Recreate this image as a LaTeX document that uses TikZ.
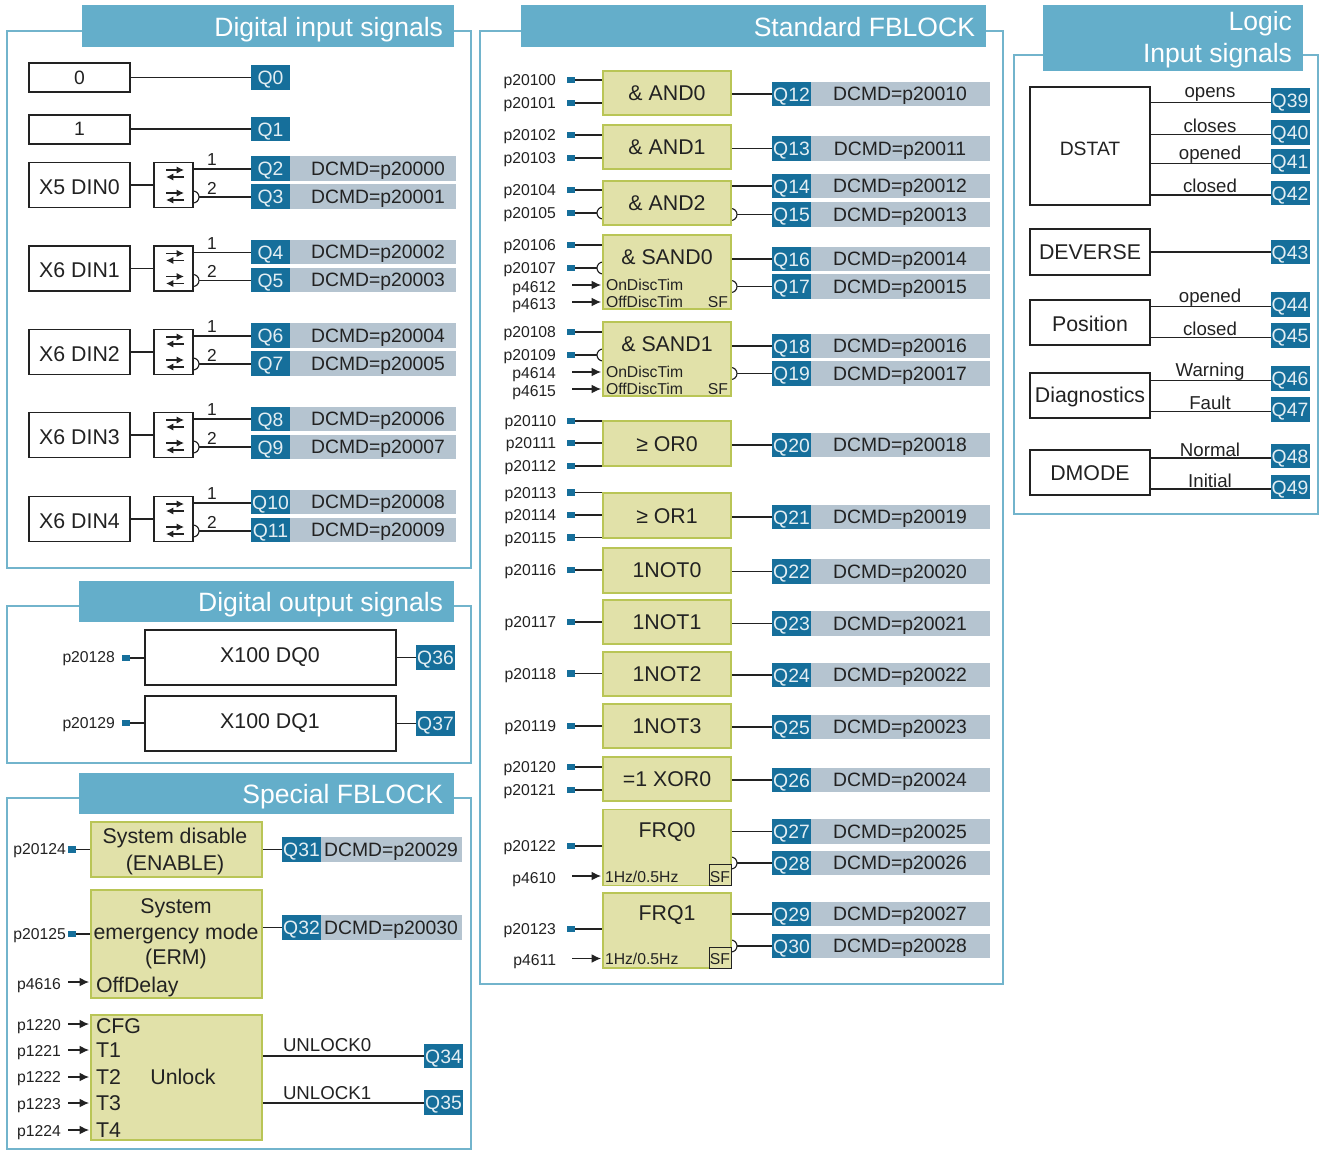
\documentclass[tikz,border=0pt]{standalone}
\usepackage{fontspec}
\setmainfont{Liberation Sans}
\usetikzlibrary{arrows.meta}
\pgfdeclarelayer{under}
\pgfsetlayers{under,main}
\definecolor{hdr}{HTML}{64AECA}
\definecolor{frm}{HTML}{72B4CC}
\definecolor{qb}{HTML}{166F9B}
\definecolor{bar}{HTML}{B5C4D0}
\definecolor{blkf}{HTML}{E1E1A9}
\definecolor{blkd}{HTML}{B9C556}
\definecolor{ink}{HTML}{222222}
\newcommand\fa{\fontsize{11.8}{14}\selectfont}
\newcommand\fb{\fontsize{14}{17}\selectfont}
\newcommand\fc{\fontsize{14.5}{17}\selectfont}
\newcommand\fd{\fontsize{16}{19.2}\selectfont}
\newcommand\fe{\fontsize{19.9}{24}\selectfont}
\newcommand\ql[1]{\raisebox{0pt}[10.8pt][0pt]{Q#1}}
\tikzset{
 x=0.75pt,y=-0.75pt,
 txt/.style={inner sep=0pt,outer sep=0pt,text=ink,yshift=-1.5pt},
 small/.style={font=\fa},
 med/.style={font=\fb},
 title/.style={inner sep=0pt,outer sep=0pt,text=white,font=\fe,anchor=east,yshift=-2pt},
 boxbase/.style={inner sep=0pt,outer sep=0pt},
 whitebox/.style={boxbase,draw=ink,line width=0.9pt,fill=white},
 blk/.style={boxbase,draw=blkd,line width=1.1pt,fill=blkf},
 hdrbox/.style={boxbase,fill=hdr},
 qbox/.style={boxbase,fill=qb,text=white!88!qb,font=\fc,minimum width=29.25pt,minimum height=18.4pt},
 barbox/.style={boxbase,fill=bar,minimum height=18.4pt},
 sqbox/.style={boxbase,fill=qb,minimum width=5.3pt,minimum height=4.8pt},
 wire/.style={draw=ink,line width=0.85pt},
 arrowin/.style={draw=ink,line width=0.85pt,-{Latex[length=7pt,width=6.5pt]},shorten >=1.5pt},
 swarr/.style={draw=ink,line width=1.1pt,-{Latex[length=5.5pt,width=5.5pt]}},
 bubble/.style={draw=ink,line width=0.85pt,fill=white},
 frame/.style={draw=frm,line width=2.1pt},
}
% generic helpers
\newcount\tc
\newcommand\tx[4][]{\global\advance\tc by 1 \node[txt,#1] (t\the\tc) at (#2,#3) {#4};}
\newcommand\bx[6]{\node[#6,minimum width={(#4-(#2))*0.75pt},minimum height={(#5-(#3))*0.75pt}] (#1) at ({(#2+#4)/2},{(#3+#5)/2}) {};}
\newcommand\wire[3]{\begin{pgfonlayer}{under}\draw[wire] (#1 |- 0,#3) -- (#2 |- 0,#3);\end{pgfonlayer}}
\newcommand\bubr[2]{\begin{pgfonlayer}{under}\draw[bubble] (#1 |- 0,#2) circle[radius=6];\end{pgfonlayer}}
\newcommand\qq[3]{\node[qbox] (q#1) at ({#2+19.5},#3) {\ql{#1}};}
\newcommand\qg[6]{\node[barbox,minimum width={(#4-#2-39)*0.75pt}] (g#1) at ({(#2+39+#4)/2},#3) {};
 \node[qbox] (q#1) at ({#2+19.5},#3) {\ql{#1}};
 \tx[font=\fc]{#6}{#3}{DCMD=#5}}
% digital input rows
\newcommand\din[5]{%
 \bx{#1}{29}{#2-22.5}{130}{#2+22.5}{whitebox}\tx[font=\fd]{79.5}{#2}{#3}
 \bx{sw#1}{154}{#2-22.5}{193}{#2+22.5}{whitebox}
 \draw[swarr] (166,#2-15) -- (184,#2-15);
 \draw[swarr] (184,#2-8) -- (166,#2-8);
 \draw[swarr] (166,#2+8) -- (184,#2+8);
 \draw[swarr] (184,#2+15) -- (166,#2+15);
 \wire{#1.east}{sw#1.west}{#2}
 \wire{sw#1.east}{q#4.west}{#2-16}
 \wire{sw#1.east}{q#5.west}{#2+12}
 \bubr{sw#1.east}{#2+12}
 \tx[font=\fontsize{13}{15}\selectfont]{212}{#2-27}{1}
 \tx[font=\fontsize{13}{15}\selectfont]{212}{#2+1}{2}}
\newcommand\dinq[3]{\qg{#1}{251}{#2}{456}{#3}{378}}
% standard panel helpers
\newcommand\spin[3]{\tx[small,anchor=east]{556}{#2}{p#1}\node[sqbox] (s#1) at (571,#2) {};\wire{s#1.center}{#3.west}{#2}}
\newcommand\spini[3]{\spin{#1}{#2}{#3}\bubr{#3.west}{#2}}
\newcommand\sarr[4][0]{\tx[small,anchor=east]{556}{#2+#1+2}{p#3}\coordinate (a#3) at (572,#2);\begin{pgfonlayer}{under}\draw[arrowin] (a#3) -- (#4.west |- 0,#2);\end{pgfonlayer}}
\newcommand\stq[4]{\qg{#1}{772}{#2}{990}{#3}{900}\wire{#4.east}{q#1.west}{#2}}
\newcommand\stqi[4]{\qg{#1}{772}{#2}{990}{#3}{900}\wire{#4.east}{q#1.west}{#2}\bubr{#4.east}{#2}}
\newcommand\sblk[4]{\bx{#1}{603}{#2}{731}{#3}{blk}\tx[font=\fd]{667}{#4}{\csname lbl#1\endcsname}}
\newcommand\ssf[2]{\bx{sf#1}{709}{#2-21}{731}{#2}{blk,draw=ink,line width=0.7pt}\tx[small]{720}{#2-10.5}{SF}}
% right panel
\newcommand\rqb[3]{\node[qbox] (q#1) at (1290,#2) {\ql{#1}};\wire{#3.east}{q#1.west}{#2+2}}
\begin{document}
\begin{tikzpicture}
\useasboundingbox (0,0) rectangle (1319,1150);
\begin{pgfonlayer}{under}
\fill[white] (0,0) rectangle (1319,1150);
\draw[frame] (7,31) rectangle (471,568);
\draw[frame] (7,606) rectangle (471,763);
\draw[frame] (7,798) rectangle (471,1149);
\draw[frame] (480,31) rectangle (1003,984);
\draw[frame] (1014,55) rectangle (1318,514);
\end{pgfonlayer}
% headers
\bx{h1}{82}{5}{454}{47}{hdrbox}\node[title] (h1t) at (443,27) {Digital input signals};
\bx{h2}{79}{581}{454}{622}{hdrbox}\node[title] (h2t) at (443,602) {Digital output signals};
\bx{h3}{79}{773}{454}{814}{hdrbox}\node[title] (h3t) at (443,794) {Special FBLOCK};
\bx{h4}{521}{5}{986}{47}{hdrbox}\node[title] (h4t) at (975,24.5) {Standard FBLOCK};
\bx{h5}{1043}{5}{1303}{71}{hdrbox}\node[title] (h5a) at (1292,21) {Logic};\node[title] (h5b) at (1292,53) {Input signals};
% Digital input
\bx{b0}{29}{63}{130}{92}{whitebox}\tx[font=\fc]{79.5}{75.5}{0}\qq{0}{251}{77.5}\wire{b0.east}{q0.west}{77.5}
\bx{b1}{29}{115}{130}{144}{whitebox}\tx[font=\fc]{79.5}{126.5}{1}\qq{1}{251}{129}\wire{b1.east}{q1.west}{129}
\dinq{2}{168.5}{p20000}\dinq{3}{196.5}{p20001}
\dinq{4}{252}{p20002}\dinq{5}{280}{p20003}
\dinq{6}{335.5}{p20004}\dinq{7}{363.5}{p20005}
\dinq{8}{419}{p20006}\dinq{9}{447}{p20007}
\dinq{10}{502}{p20008}\dinq{11}{530}{p20009}
\din{din0}{185}{X5 DIN0}{2}{3}
\din{din1}{268.5}{X6 DIN1}{4}{5}
\din{din2}{352}{X6 DIN2}{6}{7}
\din{din3}{435}{X6 DIN3}{8}{9}
\din{din4}{519}{X6 DIN4}{10}{11}
% Digital output
\bx{dq0}{145}{630}{396}{685}{whitebox}\tx[font=\fd]{270}{655}{X100 DQ0}
\bx{dq1}{145}{696}{396}{751}{whitebox}\tx[font=\fd]{270}{721}{X100 DQ1}
\tx[small,anchor=east]{115}{657}{p20128}\node[sqbox] (s20128) at (126,658) {};\wire{s20128.center}{dq0.west}{658}
\tx[small,anchor=east]{115}{723}{p20129}\node[sqbox] (s20129) at (126,723) {};\wire{s20129.center}{dq1.west}{723}
\qq{36}{416}{657.5}\wire{dq0.east}{q36.west}{657.5}
\qq{37}{416}{723.5}\wire{dq1.east}{q37.west}{723.5}
% Special
\bx{sd}{91}{822}{262}{877}{blk}\tx[font=\fd,align=center]{175}{849.5}{System disable\\[1.5pt](ENABLE)}
\tx[small,anchor=east]{66}{849}{p20124}\node[sqbox] (s20124) at (72,849.5) {};\wire{s20124.center}{sd.west}{849.5}
\qg{31}{282}{849.5}{462}{p20029}{391}\wire{sd.east}{q31.west}{849.5}
\bx{erm}{91}{890}{262}{998}{blk}\tx[font=\fd]{176}{906}{System}\tx[font=\fd]{176}{932}{emergency mode}\tx[font=\fd]{176}{957}{(ERM)}\tx[font=\fd,anchor=west]{96}{985}{OffDelay}
\tx[small,anchor=east]{66}{934}{p20125}\node[sqbox] (s20125) at (72,934) {};\wire{s20125.center}{erm.west}{934}
\tx[small,anchor=east]{61}{984}{p4616}\coordinate (a4616) at (68,982);
\begin{pgfonlayer}{under}\draw[arrowin] (a4616) -- (erm.west |- 0,982);\end{pgfonlayer}
\qg{32}{282}{927.5}{462}{p20030}{391}\wire{erm.east}{q32.west}{927.5}
\bx{unl}{91}{1015}{262}{1140}{blk}
\tx[font=\fd,anchor=west]{96}{1024.5}{CFG}\tx[font=\fd,anchor=west]{96}{1048.5}{T1}\tx[font=\fd,anchor=west]{96}{1075.5}{T2}\tx[font=\fd,anchor=west]{96}{1101.5}{T3}\tx[font=\fd,anchor=west]{96}{1128.5}{T4}
\tx[font=\fd]{183}{1074.5}{Unlock}
\foreach \pp/\yy/\ly in {1220/1024/1025,1221/1050/1051,1222/1077/1077,1223/1103/1104,1224/1130/1131}{
 \node[txt,small,anchor=east] (l\pp) at (61,\ly) {p\pp};
 \coordinate (a\pp) at (68,\yy);
 \begin{pgfonlayer}{under}\draw[arrowin] (a\pp) -- (unl.west |- 0,\yy);\end{pgfonlayer}
}
\qq{34}{424}{1056}\wire{unl.east}{q34.west}{1056}\tx[med,anchor=west]{283}{1043}{UNLOCK0}
\qq{35}{424}{1102.5}\wire{unl.east}{q35.west}{1103}\tx[med,anchor=west]{283}{1091}{UNLOCK1}
% Standard FBLOCK
\def\lblandz{\& AND0}\sblk{andz}{71}{115}{91}
\spin{20100}{80}{andz}\spin{20101}{103}{andz}\stq{12}{94}{p20010}{andz}
\def\lblando{\& AND1}\sblk{ando}{125}{169}{145.5}
\spin{20102}{135}{ando}\spin{20103}{158}{ando}\stq{13}{148.5}{p20011}{ando}
\def\lblandt{\& AND2}\sblk{andt}{181}{225}{201.5}
\spin{20104}{190}{andt}\spini{20105}{213}{andt}\stq{14}{186}{p20012}{andt}\stqi{15}{214.5}{p20013}{andt}
\def\lblsanz{\& SAND0}\sblk{sanz}{235}{309}{255.5}
\spin{20106}{245}{sanz}\spini{20107}{268}{sanz}\sarr{285}{4612}{sanz}\sarr{302}{4613}{sanz}
\tx[small,anchor=west]{606}{283}{OnDiscTim}\tx[small,anchor=west]{606}{300}{OffDiscTim}\tx[small]{718}{300}{SF}
\stq{16}{259}{p20014}{sanz}\stqi{17}{286.5}{p20015}{sanz}
\def\lblsano{\& SAND1}\sblk{sano}{322}{396}{342.5}
\spin{20108}{332}{sano}\spini{20109}{355}{sano}\sarr[-1]{372}{4614}{sano}\sarr{389}{4615}{sano}
\tx[small,anchor=west]{606}{370}{OnDiscTim}\tx[small,anchor=west]{606}{387}{OffDiscTim}\tx[small]{718}{387}{SF}
\stq{18}{346}{p20016}{sano}\stqi{19}{373.5}{p20017}{sano}
\def\lblorz{≥ OR0}\sblk{orz}{421}{466}{442.5}
\spin{20110}{421}{orz}\spin{20111}{443}{orz}\spin{20112}{466}{orz}\stq{20}{445}{p20018}{orz}
\def\lbloro{≥ OR1}\sblk{oro}{493}{538}{514.5}
\spin{20113}{492.5}{oro}\spin{20114}{515}{oro}\spin{20115}{537.5}{oro}\stq{21}{517}{p20019}{oro}
\def\lblnz{1NOT0}\sblk{nz}{548}{593}{568.5}\spin{20116}{570}{nz}\stq{22}{571.5}{p20020}{nz}
\def\lblno{1NOT1}\sblk{no}{600}{644}{620.5}\spin{20117}{622}{no}\stq{23}{623.5}{p20021}{no}
\def\lblnt{1NOT2}\sblk{nt}{652}{696}{672.5}\spin{20118}{673.5}{nt}\stq{24}{675}{p20022}{nt}
\def\lblnh{1NOT3}\sblk{nh}{704}{748}{724.5}\spin{20119}{726}{nh}\stq{25}{727}{p20023}{nh}
\def\lblxz{=1 XOR0}\sblk{xz}{757}{801}{777}\spin{20120}{767}{xz}\spin{20121}{790}{xz}\stq{26}{780}{p20024}{xz}
\def\lblfz{FRQ0}\sblk{fz}{809.5}{885.5}{830.5}\spin{20122}{846}{fz}\sarr{876}{4610}{fz}
\tx[small,anchor=west]{605}{875}{1Hz/0.5Hz}\ssf{z}{885.5}
\stq{27}{831.5}{p20025}{fz}\stqi{28}{863}{p20026}{fz}
\def\lblfo{FRQ1}\sblk{fo}{893}{968}{913}\spin{20123}{929}{fo}\sarr[-1]{958.5}{4611}{fo}
\tx[small,anchor=west]{605}{956.5}{1Hz/0.5Hz}\ssf{o}{968}
\stq{29}{914}{p20027}{fo}\stqi{30}{946}{p20028}{fo}
% Logic
\bx{dst}{1030}{87}{1150}{205}{whitebox}\tx[font=\fc]{1090}{147}{DSTAT}
\rqb{39}{100.5}{dst}\rqb{40}{132.5}{dst}\rqb{41}{161.5}{dst}\rqb{42}{193}{dst}
\tx[med]{1210}{92}{opens}\tx[med]{1210}{124}{closes}\tx[med]{1210}{153}{opened}\tx[med]{1210}{184}{closed}
\bx{dev}{1030}{229}{1150}{275}{whitebox}\tx[font=\fd]{1090}{250.5}{DEVERSE}
\node[qbox] (q43) at (1290,252) {\ql{43}};\wire{dev.east}{q43.west}{252}
\bx{pos}{1030}{300}{1150}{345}{whitebox}\tx[font=\fd]{1090}{321.5}{Position}
\rqb{44}{304.5}{pos}\rqb{45}{335.5}{pos}\tx[med]{1210}{296}{opened}\tx[med]{1210}{327}{closed}
\bx{dia}{1030}{373}{1150}{418}{whitebox}\tx[font=\fd]{1090}{394.5}{Diagnostics}
\rqb{46}{378.5}{dia}\rqb{47}{409.5}{dia}\tx[med]{1210}{370}{Warning}\tx[med]{1210}{401}{Fault}
\bx{dmo}{1030}{450}{1150}{495}{whitebox}\tx[font=\fd]{1090}{471.5}{DMODE}
\rqb{48}{456}{dmo}\rqb{49}{487}{dmo}\tx[med]{1210}{448}{Normal}\tx[med]{1210}{479}{Initial}
\end{tikzpicture}
\end{document}
